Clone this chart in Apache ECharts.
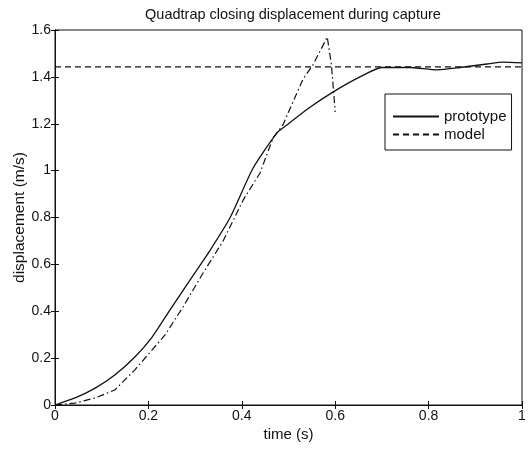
<!DOCTYPE html>
<html>
<head>
<meta charset="utf-8">
<script src="https://cdn.jsdelivr.net/npm/echarts@6/dist/echarts.min.js"></script>
<style>
  html, body { margin: 0; padding: 0; background: #fff; }
  #chart { width: 530px; height: 449px; }
</style>
</head>
<body>
<div id="chart"></div>
<script>
// values
const protoTime = [0, 0.043, 0.086, 0.128, 0.171, 0.208, 0.246, 0.289, 0.332, 0.375, 0.424, 0.475, 0.50, 0.546, 0.595, 0.653, 0.70, 0.76, 0.818, 0.867, 0.925, 0.96, 1.0]
const protoDisp = [0, 0.03, 0.072, 0.128, 0.205, 0.29, 0.405, 0.533, 0.66, 0.80, 1.01, 1.16, 1.20, 1.27, 1.335, 1.40, 1.44, 1.44, 1.43, 1.44, 1.455, 1.463, 1.46]

const simTime = [0, 0.043, 0.086, 0.128, 0.171, 0.236, 0.274, 0.317, 0.36, 0.403, 0.439, 0.467, 0.488, 0.531, 0.552, 0.583, 0.592, 0.60]
const simDisp = [0, 0.008, 0.03, 0.064, 0.15, 0.30, 0.418, 0.563, 0.70, 0.875, 0.99, 1.14, 1.195, 1.39, 1.45, 1.57, 1.45, 1.25]

const modelTime = [0, 1]
const modelDisp = [1.443, 1.443]

const pairs = (xs, ys) => xs.map((x, i) => [x, ys[i]])

const font = 'Liberation Sans, Arial, sans-serif'
const black = '#111'

let chart = echarts.init(document.getElementById('chart'), null, { renderer: 'canvas' })

const tickStyle = { show: true, inside: true, length: 4, lineStyle: { color: black } }

chart.setOption({
  animation: false,
  backgroundColor: '#fff',
  textStyle: { fontFamily: font, color: black },
  title: {
    text: 'Quadtrap closing displacement during capture',
    left: 288, top: 2, textAlign: 'center',
    textStyle: { fontSize: 14.5, fontWeight: 'normal', color: black, fontFamily: font }
  },
  grid: {
    left: 55, right: 8, top: 30, bottom: 44,
    outerBoundsMode: 'none',
    show: true, borderColor: black, borderWidth: 1
  },
  legend: {
    show: true,
    orient: 'vertical',
    left: 385, top: 94,
    backgroundColor: '#fff',
    borderColor: black, borderWidth: 1,
    padding: [15, 5, 8, 7],
    itemGap: 3,
    itemWidth: 46, itemHeight: 10,
    itemStyle: { opacity: 0 },
    textStyle: { fontSize: 15, color: black, fontFamily: font },
    data: ['prototype', 'model']
  },
  xAxis: [{
    type: 'value', min: 0, max: 1, interval: 0.2,
    name: 'time (s)', nameLocation: 'middle', nameGap: 22,
    nameMoveOverlap: false,
    nameTextStyle: { fontSize: 15, color: black, fontFamily: font },
    axisLine: { show: true, lineStyle: { color: black } },
    axisTick: tickStyle,
    axisLabel: { fontSize: 14, color: black, margin: 4 },
    splitLine: { show: false }
  }, {
    type: 'value', min: 0, max: 1, interval: 0.2, position: 'top',
    axisLine: { show: true, lineStyle: { color: black } },
    axisTick: tickStyle, axisLabel: { show: false }, splitLine: { show: false }
  }],
  yAxis: [{
    type: 'value', min: 0, max: 1.6, interval: 0.2,
    name: 'displacement (m/s)', nameLocation: 'middle', nameGap: 27,
    nameMoveOverlap: false,
    nameTextStyle: { fontSize: 15.5, color: black, fontFamily: font },
    axisLine: { show: true, lineStyle: { color: black } },
    axisTick: tickStyle,
    axisLabel: { fontSize: 14, color: black, margin: 4 },
    splitLine: { show: false }
  }, {
    type: 'value', min: 0, max: 1.6, interval: 0.2, position: 'right',
    axisLine: { show: true, lineStyle: { color: black } },
    axisTick: tickStyle, axisLabel: { show: false }, splitLine: { show: false }
  }],
  series: [
    {
      name: 'prototype', type: 'line', showSymbol: false, symbol: 'none',
      smooth: 0.2,
      data: pairs(protoTime, protoDisp),
      lineStyle: { color: black, width: 1.3, type: 'solid' },
      itemStyle: { color: black }
    },
    {
      name: 'model', type: 'line', showSymbol: false, symbol: 'none',
      data: pairs(modelTime, modelDisp),
      lineStyle: { color: black, width: 1.2, type: [6, 4] },
      itemStyle: { color: black }
    },
    {
      name: 'simulation', type: 'line', showSymbol: false, symbol: 'none',
      data: pairs(simTime, simDisp),
      lineStyle: { color: black, width: 1.2, type: [7, 3, 1.5, 3] },
      itemStyle: { color: black }
    }
  ]
})

window.addEventListener('resize', () => chart.resize())
</script>
</body>
</html>
